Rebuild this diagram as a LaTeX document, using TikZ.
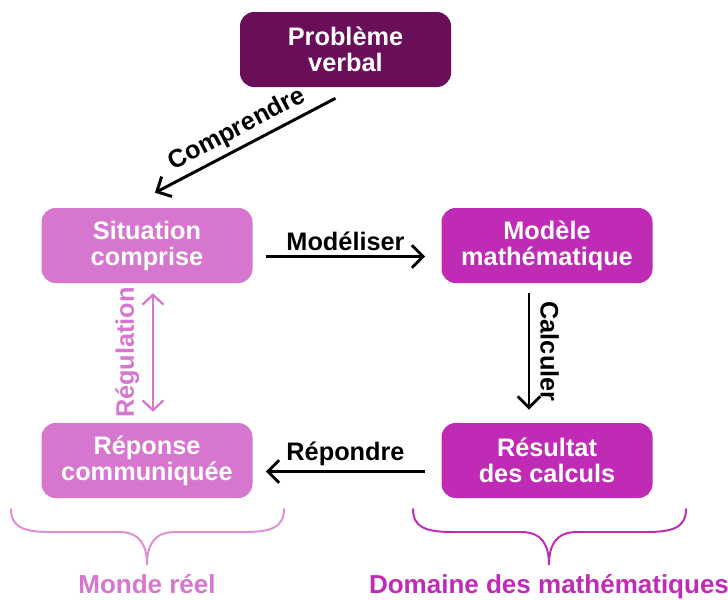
\documentclass[tikz,border=0pt]{standalone}
\usepackage{fontspec}
\setmainfont{Liberation Sans}
\usepackage{tikz}
\usetikzlibrary{arrows.meta,calc,positioning}

\definecolor{violetfonce}{HTML}{6B0E5A}
\definecolor{rosereel}{HTML}{D676CE}
\definecolor{rosebrace}{HTML}{DE8FD8}
\definecolor{magentamath}{HTML}{C02BB6}

\tikzset{
  etape/.style={rounded corners=10, minimum width=211*0.025cm, minimum height=75*0.025cm,
    text=white, align=center, font=\fontsize{18}{18.5}\selectfont\bfseries},
  fleche/.style={line width=2.1pt, -{Straight Barb[length=8pt,width=16pt]}},
  etiquette/.style={font=\fontsize{18}{18.5}\selectfont\bfseries},
  accolade/.style={line width=1.4pt, line cap=round}
}

\begin{document}
\begin{tikzpicture}[x=0.025cm, y=-0.025cm]
\useasboundingbox (0,0) rectangle (728,599);
% les etapes
\node[etape, fill=violetfonce] (verbal) at (345.5,49.5) {Problème\\verbal};
\node[etape, fill=rosereel] (situation) at (147,245.5) {Situation\\comprise};
\node[etape, fill=magentamath] (modele) at (547,245.5) {Modèle\\mathématique};
\node[etape, fill=rosereel] (reponse) at (147,460.5) {Réponse\\communiquée};
\node[etape, fill=magentamath] (resultat) at (547,460.5) {Résultat\\des calculs};
% les fleches
\draw[fleche] ($(verbal.south)+(-10,11)$) -- node[etiquette, midway, above, sloped] {Comprendre} ($(situation.north)+(8,-15)$);
\draw[fleche] ($(situation.east)+(13,11)$) -- node[etiquette, midway, above] {Modéliser} ($(modele.west)+(-16,11)$);
\draw[fleche] ($(modele.south)+(-18,10)$) -- node[etiquette, midway, anchor=south, rotate=-90, inner sep=7pt] {Calculer} ($(resultat.north)+(-18,-13)$);
\draw[fleche] ($(resultat.west)+(-16,11)$) -- node[etiquette, midway, above] {Répondre} ($(reponse.east)+(13,11)$);
\draw[rosereel, line width=1.6pt, {Straight Barb[length=7pt,width=15pt]}-{Straight Barb[length=7pt,width=15pt]}]
  ($(situation.south)+(6,10)$) -- node[etiquette, midway, anchor=south, rotate=90, inner sep=9pt] {Régulation} ($(reponse.north)+(6,-11)$);
% les accolades
\draw[accolade, rosebrace] (11,509) .. controls (11,528) and (25,532) .. (51,532) -- (119,532)
  .. controls (140,532) and (147,545) .. (147,565) coordinate (pointeG)
  .. controls (147,545) and (154,532) .. (175,532) -- (244,532)
  .. controls (270,532) and (284,528) .. (284,509);
\draw[accolade, magentamath] (413,509) .. controls (413,528) and (427,532) .. (453,532) -- (521,532)
  .. controls (542,532) and (549,545) .. (549,565) coordinate (pointeD)
  .. controls (549,545) and (556,532) .. (577,532) -- (646,532)
  .. controls (672,532) and (686,528) .. (686,509);
\node[etiquette, text=rosereel, font=\fontsize{18.5}{20}\selectfont\bfseries, below=3pt of pointeG] (monde) {Monde réel};
\node[etiquette, text=magentamath, font=\fontsize{18.5}{20}\selectfont\bfseries, below=3pt of pointeD] (domaine) {Domaine des mathématiques};
\end{tikzpicture}
\end{document}
